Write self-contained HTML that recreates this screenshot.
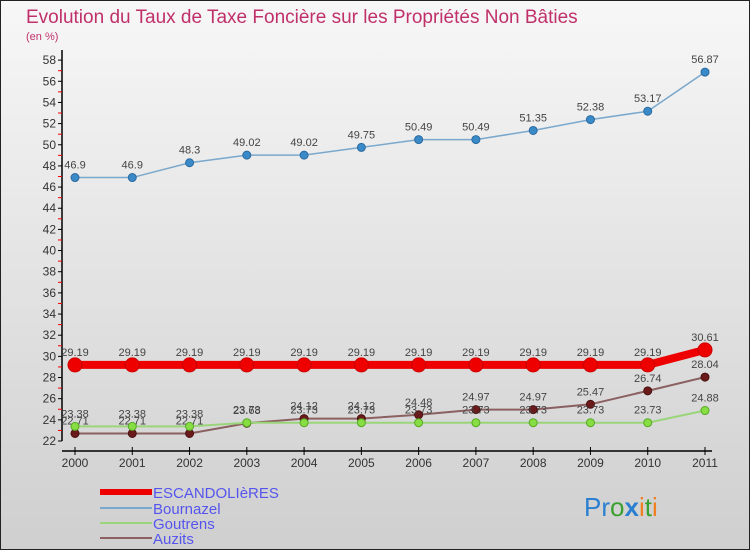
<!DOCTYPE html>
<html><head><meta charset="utf-8"><style>
body{margin:0}
svg text{font-family:"Liberation Sans",sans-serif}
</style></head><body>
<svg id="c" width="750" height="550" xmlns="http://www.w3.org/2000/svg">
<defs><linearGradient id="bg" x1="0" y1="0" x2="0" y2="1"><stop offset="0" stop-color="#f7f7f7"/><stop offset="1" stop-color="#cfcfcf"/></linearGradient></defs>
<rect x="0.5" y="0.5" width="749" height="549" fill="url(#bg)" stroke="#222"/>
<text x="26" y="23" font-size="19" fill="#c0306a">Evolution du Taux de Taxe Foncière sur les Propriétés Non Bâties</text>
<text x="26" y="40" font-size="11" fill="#c0306a">(en %)</text>
<g id="axes"></g><g id="series"></g>
<g>
<line x1="100" y1="492" x2="152" y2="492" stroke="#e00" stroke-width="6"/>
<text x="153" y="498" font-size="15" fill="#5555ee">ESCANDOLIèRES</text>
<line x1="100" y1="508" x2="152" y2="508" stroke="#7aa8cc" stroke-width="2"/>
<text x="153" y="514" font-size="15" fill="#5555ee">Bournazel</text>
<line x1="100" y1="523" x2="152" y2="523" stroke="#9ad57a" stroke-width="2"/>
<text x="153" y="529" font-size="15" fill="#5555ee">Goutrens</text>
<line x1="100" y1="538" x2="152" y2="538" stroke="#8b6060" stroke-width="2"/>
<text x="153" y="544" font-size="15" fill="#5555ee">Auzits</text>
</g>
<text x="584" y="516" font-size="26"><tspan fill="#2a7fd0">Pr</tspan><tspan fill="#3aa030">o</tspan><tspan fill="#2a7fd0" font-weight="bold">x</tspan><tspan fill="#f08020">i</tspan><tspan fill="#3aa030">t</tspan><tspan fill="#f08020">i</tspan></text>
</svg>
<script>
const years=["2000","2001","2002","2003","2004","2005","2006","2007","2008","2009","2010","2011"];
const escandolieres=[29.19,29.19,29.19,29.19,29.19,29.19,29.19,29.19,29.19,29.19,29.19,30.61];
const bournazel=[46.9,46.9,48.3,49.02,49.02,49.75,50.49,50.49,51.35,52.38,53.17,56.87];
const goutrens=[23.38,23.38,23.38,23.73,23.73,23.73,23.73,23.73,23.73,23.73,23.73,24.88];
const auzits=[22.71,22.71,22.71,23.68,24.12,24.12,24.48,24.97,24.97,25.47,26.74,28.04];
const yTicks=[22,24,26,28,30,32,34,36,38,40,42,44,46,48,50,52,54,56,58];
const NS="http://www.w3.org/2000/svg";
const X=i=>75+i*(705-75)/(years.length-1);
const Y=v=>441-(v-22)*10.58;
function mk(p,t,a){const e=document.createElementNS(NS,t);for(const k in a)e.setAttribute(k,a[k]);p.appendChild(e);return e;}
const ax=document.getElementById('axes');
let l=mk(ax,'line',{x1:62,y1:50,x2:62,y2:441,stroke:'#000','stroke-width':1.5});


l=mk(ax,'line',{x1:62,y1:451,x2:712,y2:451,stroke:'#000','stroke-width':1.5});


yTicks.forEach(v=>{
 mk(ax,'line',{x1:58,y1:Y(v),x2:62,y2:Y(v),stroke:'#000'});
 if(v<58)mk(ax,'line',{x1:58,y1:Y(v+1),x2:62,y2:Y(v+1),stroke:'#e00'});
 const t=mk(ax,'text',{x:56,y:Y(v)+4,'font-size':12,'text-anchor':'end',fill:'#333'});
 t.textContent=v;
 
 
});
years.forEach((y,i)=>{
 mk(ax,'line',{x1:X(i),y1:447,x2:X(i),y2:455,stroke:'#000'});
 const t=mk(ax,'text',{x:X(i),y:467,'font-size':12,'text-anchor':'middle',fill:'#333'});
 t.textContent=y;
 
 
});
const sg=document.getElementById('series');
function series(name,data,color,w,r,fill,stroke){
 const g=mk(sg,'g',{});
 
 
 const pl=mk(g,'polyline',{points:data.map((v,i)=>X(i)+','+Y(v)).join(' '),fill:'none',stroke:color,'stroke-width':w});
 
 
 data.forEach((v,i)=>{
  const c=mk(g,'circle',{cx:X(i),cy:Y(v),r:r,fill:fill,stroke:stroke,'stroke-width':1});
  
  
  const t=mk(g,'text',{x:X(i),y:Y(v)-9,'font-size':11,'text-anchor':'middle',fill:'#444'});
  t.textContent=v;
  
  
 });
}
series('auzits',auzits,'#8b6060',2,4,'#6a1a1a','#4a1010');
series('goutrens',goutrens,'#9ad57a',2,4,'#88dd44','#55aa22');
series('bournazel',bournazel,'#7aa8cc',1.5,4,'#3a8ac8','#2a6aa0');
series('escandolieres',escandolieres,'#e00',8,7,'#e00','#c00');
</script>
</body></html>
